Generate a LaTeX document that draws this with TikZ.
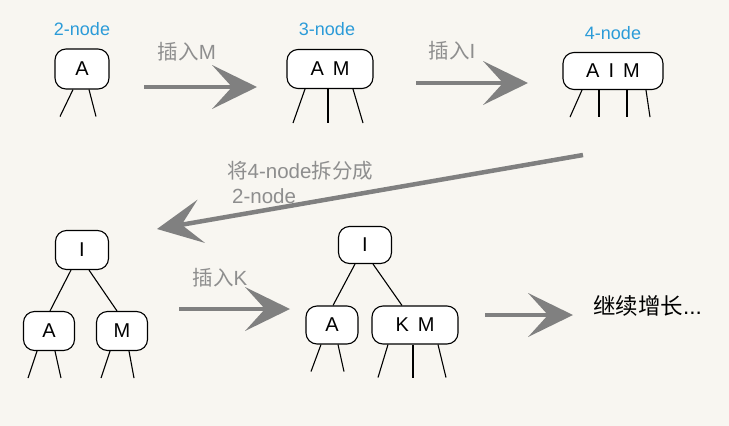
\documentclass[tikz,border=0pt]{standalone}
\usepackage{fontspec}
\setmainfont{Liberation Sans}
\newfontfamily\cjk{Noto Sans CJK SC}
\usetikzlibrary{arrows.meta}
\definecolor{bg}{HTML}{F8F6F1}
\definecolor{lblue}{HTML}{2B9BD8}
\definecolor{agray}{HTML}{808080}
\definecolor{tgray}{HTML}{8E8E8E}
\begin{document}
\begin{tikzpicture}[x=1pt,y=-1pt,
  bnode/.style={draw=black, line width=1.1pt, fill=white, rounded corners=11pt, inner sep=0pt, font=\fontsize{20}{24}\selectfont},
  leg/.style={line width=1.1pt},
  big/.style={draw=agray, fill=agray, line width=4.5pt, -{Stealth[length=45pt,width=44pt,inset=20pt,line width=0pt]}},
  lbl/.style={text=lblue, inner sep=0pt, font=\fontsize{18}{21}\selectfont},
  glbl/.style={text=tgray, inner sep=0pt, font=\fontsize{20.5}{24}\selectfont}]
\fill[bg] (0,0) rectangle (729,426);
\useasboundingbox (0,0) rectangle (729,426);

% top labels
\node[lbl] (t2) at (82,29) {2-node};
\node[lbl] (t3) at (327,29) {3-node};
\node[lbl] (t4) at (613,33) {4-node};

% 2-node
\node[bnode, minimum width=54pt, minimum height=40pt] (n2) at (82,69) {A};
\draw[leg] ([xshift=-9pt]n2.south) -- ++(-13,27);
\draw[leg] ([xshift=7pt]n2.south) -- ++(7,27);

% 3-node
\node[bnode, minimum width=86pt, minimum height=39pt] (n3) at (330,69) {A\hspace{0.45em}M};
\draw[leg] ([xshift=-25pt]n3.south) -- ++(-12,34);
\draw[leg] ([xshift=-2pt]n3.south) -- ++(0,34);
\draw[leg] ([xshift=23pt]n3.south) -- ++(10,34);

% 4-node
\node[bnode, minimum width=100pt, minimum height=37pt] (n4) at (613,71) {A\hspace{0.45em}I\hspace{0.45em}M};
\draw[leg] ([xshift=-31pt]n4.south) -- ++(-12,27);
\draw[leg] ([xshift=-14pt]n4.south) -- ++(0,27);
\draw[leg] ([xshift=14pt]n4.south) -- ++(0,27);
\draw[leg] ([xshift=33pt]n4.south) -- ++(4,27);

% arrows
\coordinate (a1s) at (144,87); \coordinate (a1e) at (257,87);
\coordinate (a2s) at (416,83); \coordinate (a2e) at (528,83);
\coordinate (a3s) at (583,155); \coordinate (a3e) at (157,229);
\coordinate (a4s) at (179,309); \coordinate (a4e) at (290,309);
\coordinate (a5s) at (485,315); \coordinate (a5e) at (573,315);
\draw[big] (a1s) -- (a1e);
\draw[big] (a2s) -- (a2e);
\draw[big] (a3s) -- (a3e);
\draw[big] (a4s) -- (a4e);
\draw[big] (a5s) -- (a5e);

\node[glbl] (g1) at (187,52) {{\cjk 插入}M};
\node[glbl] (g2) at (452,51) {{\cjk 插入}I};
\node[glbl] (g3) at (220,278) {{\cjk 插入}K};
\node[glbl, anchor=west] (g4) at (227,171) {{\cjk 将}4-node{\cjk 拆分成}};
\node[glbl, anchor=west] (g5) at (232,196) {2-node};
\node[inner sep=0pt, anchor=west, font=\fontsize{22.5}{26}\selectfont] (g6) at (593,306) {{\cjk 继续增长}...};

% tree 2
\node[bnode, minimum width=53pt, minimum height=39pt] (r2) at (82,250) {I};
\node[bnode, minimum width=51pt, minimum height=39pt] (a2) at (49,331) {A};
\node[bnode, minimum width=51pt, minimum height=39pt] (m2) at (122,331) {M};
\draw[leg] ([xshift=-11pt]r2.south) -- ([xshift=1pt]a2.north);
\draw[leg] ([xshift=7pt]r2.south) -- ([xshift=-5pt]m2.north);
\draw[leg] ([xshift=-12pt]a2.south) -- ++(-9,27);
\draw[leg] ([xshift=6pt]a2.south) -- ++(6,27);
\draw[leg] ([xshift=-12pt]m2.south) -- ++(-9,27);
\draw[leg] ([xshift=7pt]m2.south) -- ++(5,27);

% tree 3
\node[bnode, minimum width=53pt, minimum height=37pt] (r3) at (365,245) {I};
\node[bnode, minimum width=52pt, minimum height=38pt] (a3) at (332,325) {A};
\node[bnode, minimum width=86pt, minimum height=38pt] (km3) at (415,325) {K\hspace{0.45em}M};
\draw[leg] ([xshift=-10pt]r3.south) -- ([xshift=1pt]a3.north);
\draw[leg] ([xshift=8pt]r3.south) -- ([xshift=-13pt]km3.north);
\draw[leg] ([xshift=-11pt]a3.south) -- ++(-10,27);
\draw[leg] ([xshift=6pt]a3.south) -- ++(6,27);
\draw[leg] ([xshift=-27pt]km3.south) -- ++(-10,33);
\draw[leg] ([xshift=-2pt]km3.south) -- ++(0,33);
\draw[leg] ([xshift=23pt]km3.south) -- ++(8,33);
\end{tikzpicture}
\end{document}
